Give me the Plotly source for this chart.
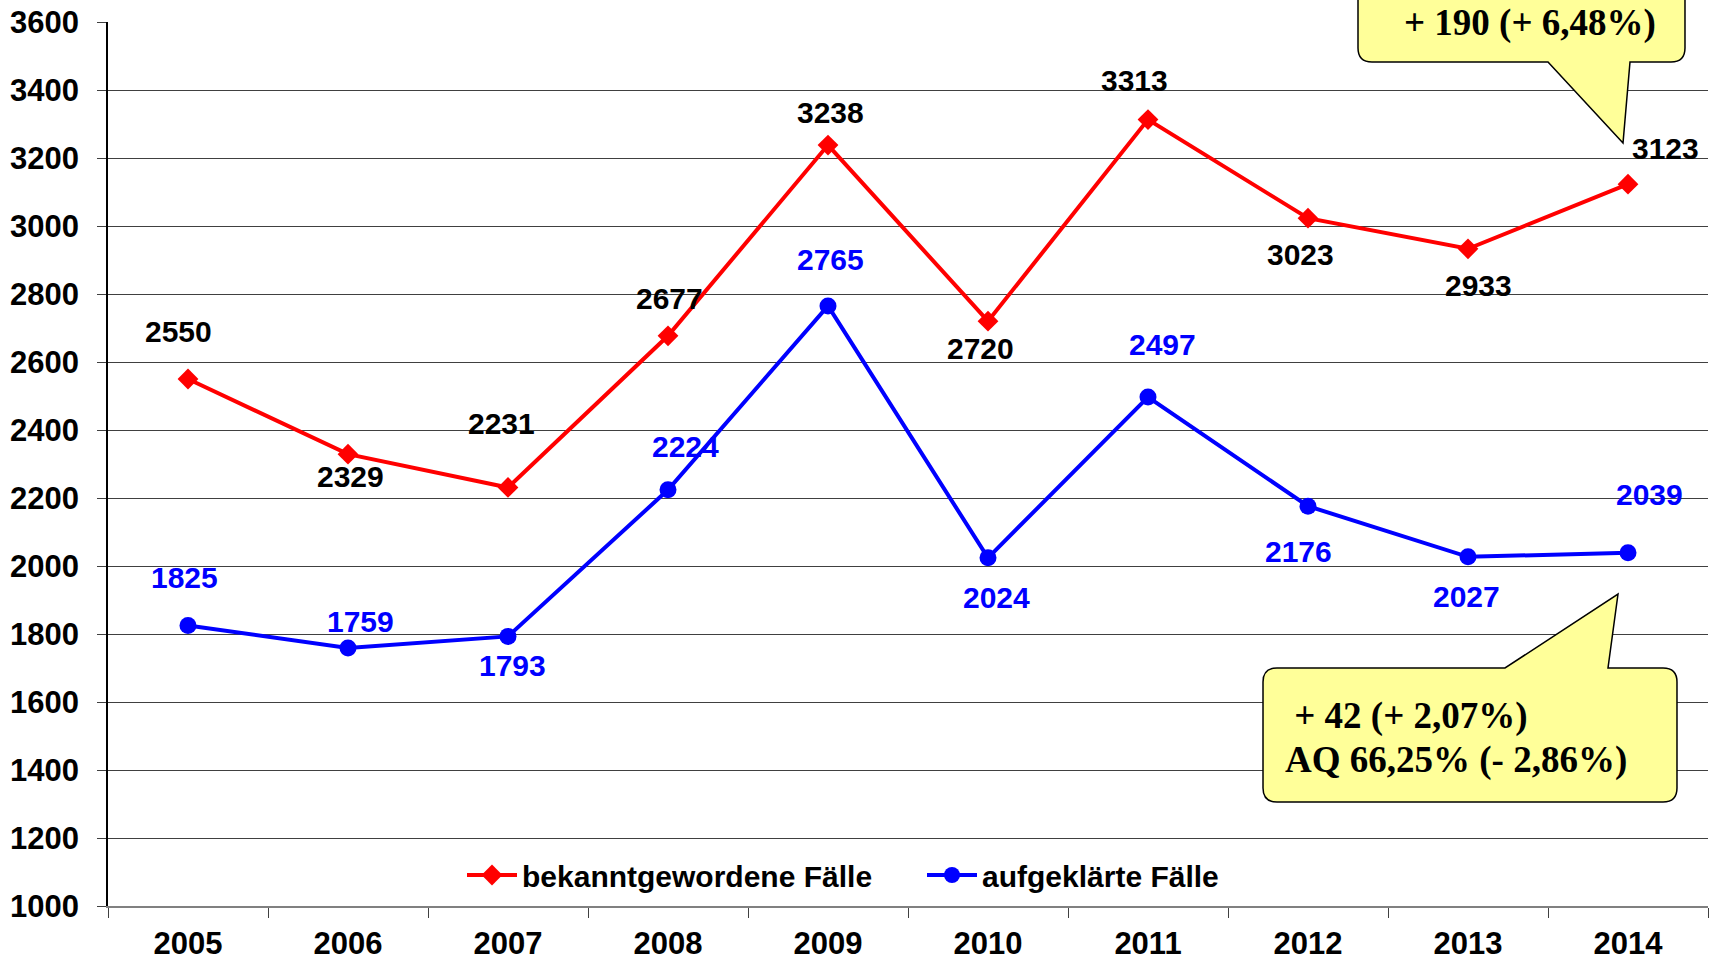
import plotly.graph_objects as go

# ---------------- data ----------------
years = ["2005", "2006", "2007", "2008", "2009", "2010", "2011", "2012", "2013", "2014"]
bekannt = [2550, 2329, 2231, 2677, 3238, 2720, 3313, 3023, 2933, 3123]
aufgeklaert = [1825, 1759, 1793, 2224, 2765, 2024, 2497, 2176, 2027, 2039]
y_ticks = list(range(1000, 3601, 200))
name_bekannt = "bekanntgewordene Fälle"
name_aufgeklaert = "aufgeklärte Fälle"
callout_top_text = "+ 190 (+ 6,48%)"
callout_bottom_lines = [" + 42 (+ 2,07%)", "AQ 66,25% (- 2,86%)"]

# label offsets in px (dx, dy; dy positive = downwards)
red_label_off = [(-10, -48), (2, 22), (-7, -64), (1, -37), (2, -33), (-8, 27), (-14, -39), (-8, 36), (10, 37), (37, -36)]
blue_label_off = [(-4, -48), (12, -26), (4, 29), (17, -43), (2, -46), (8, 40), (14, -53), (-10, 45), (-2, 40), (21, -58)]

# ---------------- layout geometry ----------------
W, H = 1710, 965
L, R, T, B = 108, 1708, 22, 906
PW, PH = R - L, B - T


def px(x):
    return (x - L) / PW


def py(y):
    return (B - y) / PH


SANS = "Arial, 'Liberation Sans', sans-serif"
SERIF = "'Times New Roman', 'Liberation Serif', serif"
RED = "#FF0000"
BLUE = "#0000FF"

fig = go.Figure()
fig.add_trace(go.Scatter(
    x=years, y=bekannt, mode="lines+markers", name=name_bekannt,
    line=dict(color=RED, width=4),
    marker=dict(symbol="diamond", size=16, color=RED),
))
fig.add_trace(go.Scatter(
    x=years, y=aufgeklaert, mode="lines+markers", name=name_aufgeklaert,
    line=dict(color=BLUE, width=4),
    marker=dict(symbol="circle", size=17, color=BLUE),
))

annotations = []
for i, (v, (dx, dy)) in enumerate(zip(bekannt, red_label_off)):
    annotations.append(dict(x=i, y=v, xref="x", yref="y", text=str(v), showarrow=False,
                            xshift=dx, yshift=-dy,
                            font=dict(family=SANS, size=30, color="black", weight="bold")))
for i, (v, (dx, dy)) in enumerate(zip(aufgeklaert, blue_label_off)):
    annotations.append(dict(x=i, y=v, xref="x", yref="y", text=str(v), showarrow=False,
                            xshift=dx, yshift=-dy,
                            font=dict(family=SANS, size=30, color=BLUE, weight="bold")))


def rounded_callout(x0, y0, x1, y1, r, pointer, side):
    """pointer = (base_a, tip_x, tip_y, base_b) in pixel coords"""
    a, tx, ty, b = pointer

    def P(x, y):
        return f"{px(x):.5f},{py(y):.5f}"
    d = f"M {P(x0 + r, y0)} "
    if side == "top":
        d += f"L {P(a, y0)} L {P(tx, ty)} L {P(b, y0)} "
    d += f"L {P(x1 - r, y0)} Q {P(x1, y0)} {P(x1, y0 + r)} "
    d += f"L {P(x1, y1 - r)} Q {P(x1, y1)} {P(x1 - r, y1)} "
    if side == "bottom":
        d += f"L {P(b, y1)} L {P(tx, ty)} L {P(a, y1)} "
    d += f"L {P(x0 + r, y1)} Q {P(x0, y1)} {P(x0, y1 - r)} "
    d += f"L {P(x0, y0 + r)} Q {P(x0, y0)} {P(x0 + r, y0)} Z"
    return d


shapes = [
    dict(type="path", xref="paper", yref="paper", layer="above",
         path=rounded_callout(1358, -80, 1685, 62, 14, (1548, 1623, 143, 1630), "bottom"),
         fillcolor="#FFFF99", line=dict(color="black", width=1.5)),
    dict(type="path", xref="paper", yref="paper", layer="above",
         path=rounded_callout(1263, 668, 1677, 802, 14, (1505, 1618, 594, 1608), "top"),
         fillcolor="#FFFF99", line=dict(color="black", width=1.5)),
]

annotations.append(dict(x=px(1530), y=py(1), xref="paper", yref="paper", text=callout_top_text,
                        showarrow=False, xanchor="center", yanchor="top", borderpad=0,
                        font=dict(family=SERIF, size=37, color="black", weight="bold")))
annotations.append(dict(x=px(1283), y=py(716), xref="paper", yref="paper", text=callout_bottom_lines[0],
                        showarrow=False, xanchor="left", yanchor="middle",
                        font=dict(family=SERIF, size=37, color="black", weight="bold")))
annotations.append(dict(x=px(1283), y=py(760), xref="paper", yref="paper", text=callout_bottom_lines[1],
                        showarrow=False, xanchor="left", yanchor="middle",
                        font=dict(family=SERIF, size=37, color="black", weight="bold")))

fig.update_layout(
    width=W, height=H,
    margin=dict(l=L, r=W - R, t=T, b=H - B, pad=0),
    paper_bgcolor="white", plot_bgcolor="white",
    font=dict(family=SANS, color="black"),
    showlegend=True,
    legend=dict(orientation="h", x=px(462), y=py(875), xanchor="left", yanchor="middle",
                bgcolor="rgba(0,0,0,0)", font=dict(family=SANS, size=30, color="black", weight="bold"),
                itemwidth=50, tracegroupgap=0, entrywidth=395, entrywidthmode="pixels"),
    shapes=shapes,
    annotations=annotations,
    xaxis=dict(type="category", showgrid=False, showline=True, linecolor="#808080", linewidth=1.5,
               ticks="outside", tickson="boundaries", ticklen=10, tickcolor="#404040", tickwidth=1,
               tickfont=dict(family=SANS, size=31, color="black", weight="bold"),
               ticklabelstandoff=9, zeroline=False, range=[-0.5, 9.5]),
    yaxis=dict(range=[1000, 3600], tickvals=y_ticks, showgrid=True, gridcolor="#404040", gridwidth=1,
               showline=True, linecolor="black", linewidth=1.5, ticks="outside", ticklen=9,
               tickcolor="#404040", tickfont=dict(family=SANS, size=31, color="black", weight="bold"),
               ticklabelstandoff=12, zeroline=False),
)

fig.write_html("out.html", config={"displayModeBar": False},
               post_script="document.body.style.margin='0';")
